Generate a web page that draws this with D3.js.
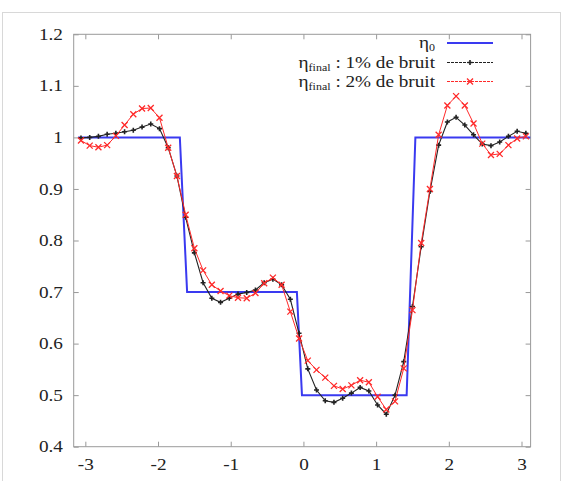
<!DOCTYPE html>
<html>
<head>
<meta charset="utf-8">
<script src="https://cdn.jsdelivr.net/npm/d3@7"></script>
<style>
  body { margin: 0; background: #fff; }
  text { font-family: "Liberation Serif", "DejaVu Serif", serif; }
</style>
</head>
<body>
<script>
// sample positions of the reconstructed profiles
var xs = [-3.06, -2.94, -2.82, -2.70, -2.58, -2.46, -2.34, -2.22, -2.10, -1.98,
          -1.86, -1.74, -1.62, -1.50, -1.38, -1.26, -1.14, -1.02, -0.90, -0.78,
          -0.66, -0.54, -0.42, -0.30, -0.18, -0.06, 0.06, 0.18, 0.30, 0.42,
          0.54, 0.66, 0.78, 0.90, 1.02, 1.14, 1.26, 1.38, 1.50, 1.62,
          1.74, 1.86, 1.98, 2.10, 2.22, 2.34, 2.46, 2.58, 2.70, 2.82,
          2.94, 3.06];

// eta_final, 1% noise
var bruit1 = [0.999, 1.000, 1.002, 1.006, 1.008, 1.011, 1.014, 1.020, 1.026, 1.017,
              0.980, 0.925, 0.845, 0.776, 0.718, 0.688, 0.680, 0.688, 0.696, 0.699,
              0.704, 0.718, 0.725, 0.714, 0.686, 0.620, 0.551, 0.510, 0.489, 0.486,
              0.494, 0.504, 0.515, 0.508, 0.481, 0.463, 0.500, 0.565, 0.672, 0.788,
              0.895, 0.985, 1.030, 1.039, 1.024, 1.005, 0.987, 0.984, 0.991, 1.002,
              1.012, 1.008];

// eta_final, 2% noise
var bruit2 = [0.994, 0.984, 0.981, 0.985, 1.003, 1.024, 1.045, 1.056, 1.057, 1.038,
              0.980, 0.925, 0.850, 0.785, 0.742, 0.714, 0.702, 0.693, 0.689, 0.688,
              0.698, 0.717, 0.728, 0.714, 0.662, 0.610, 0.567, 0.549, 0.534, 0.518,
              0.512, 0.519, 0.529, 0.525, 0.497, 0.472, 0.488, 0.552, 0.665, 0.795,
              0.900, 1.005, 1.062, 1.080, 1.062, 1.027, 0.988, 0.966, 0.968, 0.985,
              0.998, 1.002];

// eta_0, the exact step profile
var eta0X = [-3.10, -1.70, -1.60, -0.09, -0.02, 1.42, 1.54, 3.12];
var eta0Y = [1.0, 1.0, 0.7, 0.7, 0.5, 0.5, 1.0, 1.0];

var xTicks = [-3, -2, -1, 0, 1, 2, 3];
var yTicks = [0.4, 0.5, 0.6, 0.7, 0.8, 0.9, 1.0, 1.1, 1.2];

var legendLabels = [
    { sub: "0", rest: "" },
    { sub: "final", rest: " : 1% de bruit" },
    { sub: "final", rest: " : 2% de bruit" }
];

var svgWidth = 564, svgHeight = 481;
var plotL = 73.7, plotR = 530.6, plotT = 34.3, plotB = 446.7;
var stretch = 1.2;   // the source picture is a bit wider than tall

var svg = d3.select('body')
    .append('svg')
    .attr('width', svgWidth)
    .attr('height', svgHeight);

// light figure frame
svg.append('rect')
    .attr('x', 2.5).attr('y', 12.5)
    .attr('width', 558).attr('height', 480)
    .attr('fill', 'none')
    .attr('stroke', '#d8d8d8');

var xScale = d3.scaleLinear().domain([-3.16, 3.125]).range([plotL, plotR]);
var yScale = d3.scaleLinear().domain([0.4, 1.2]).range([plotB, plotT]);

var fmtX = function(d) { return String(d); };
var fmtY = function(d) { return d === 1 ? '1' : d3.format('.1f')(d); };

var tickLen = 5;

var gx = svg.append('g')
    .attr('transform', 'translate(0,' + plotB + ')')
    .call(d3.axisBottom(xScale).tickValues(xTicks).tickSize(-tickLen).tickSizeOuter(0).tickPadding(12)
        .tickFormat(fmtX));
var gxTop = svg.append('g')
    .attr('transform', 'translate(0,' + plotT + ')')
    .call(d3.axisTop(xScale).tickValues(xTicks).tickSize(-tickLen).tickSizeOuter(0).tickFormat(''));
var gy = svg.append('g')
    .attr('transform', 'translate(' + plotL + ',0)')
    .call(d3.axisLeft(yScale).tickValues(yTicks).tickSize(-tickLen).tickSizeOuter(0).tickPadding(9)
        .tickFormat(fmtY));
var gyRight = svg.append('g')
    .attr('transform', 'translate(' + plotR + ',0)')
    .call(d3.axisRight(yScale).tickValues(yTicks).tickSize(-tickLen).tickSizeOuter(0).tickFormat(''));

[gx, gxTop, gy, gyRight].forEach(function(g) {
    g.select('.domain').remove();
    g.selectAll('.tick line').attr('stroke', '#999');
    g.selectAll('.tick text')
        .attr('fill', '#222')
        .attr('transform', 'scale(' + stretch + ',1)')
        .style('font-family', '"Liberation Serif", "DejaVu Serif", serif')
        .style('font-size', '16px');
});

// plot box
svg.append('rect')
    .attr('x', plotL).attr('y', plotT)
    .attr('width', plotR - plotL).attr('height', plotB - plotT)
    .attr('fill', 'none')
    .attr('stroke', '#9a9a9a')
    .attr('stroke-width', 1);

var line = d3.line()
    .x(function(d) { return xScale(d[0]); })
    .y(function(d) { return yScale(d[1]); });

var eta0 = eta0X.map(function(x, i) { return [x, eta0Y[i]]; });
var s1 = xs.map(function(x, i) { return [x, bruit1[i]]; });
var s2 = xs.map(function(x, i) { return [x, bruit2[i]]; });

var blue = '#3a3af0', black = '#222', red = '#ff2a2a';

svg.append('path').datum(eta0)
    .attr('d', line).attr('fill', 'none')
    .attr('stroke', blue).attr('stroke-width', 2);

svg.append('path').datum(s1)
    .attr('d', line).attr('fill', 'none')
    .attr('stroke', black).attr('stroke-width', 1.1);

svg.append('g').selectAll('path')
    .data(s1).enter().append('path')
    .attr('transform', function(d) { return 'translate(' + xScale(d[0]) + ',' + yScale(d[1]) + ')'; })
    .attr('d', 'M-2.5,0H2.5M0,-2.5V2.5')
    .attr('stroke', black).attr('stroke-width', 1.6);

svg.append('path').datum(s2)
    .attr('d', line).attr('fill', 'none')
    .attr('stroke', red).attr('stroke-width', 1);

svg.append('g').selectAll('path')
    .data(s2).enter().append('path')
    .attr('transform', function(d) { return 'translate(' + xScale(d[0]) + ',' + yScale(d[1]) + ')'; })
    .attr('d', 'M-3,-3L3,3M-3,3L3,-3')
    .attr('stroke', red).attr('stroke-width', 1.3);

// legend
var legX = 435, legY = [43, 62.5, 81.5];
var sampleX0 = 447, sampleX1 = 493;
var legColors = [blue, black, red];

legendLabels.forEach(function(lab, i) {
    var t = svg.append('text')
        .attr('transform', 'translate(' + legX + ',' + (legY[i] + 5) + ') scale(' + stretch + ',1)')
        .attr('text-anchor', 'end')
        .style('font-size', '16px')
        .attr('fill', '#222');
    t.append('tspan').text('\u03b7');
    t.append('tspan').attr('dy', 3).style('font-size', '10px').text(lab.sub);
    if (lab.rest) t.append('tspan').attr('dy', -3).text(lab.rest);

    svg.append('line')
        .attr('x1', sampleX0).attr('x2', sampleX1)
        .attr('y1', legY[i]).attr('y2', legY[i])
        .attr('stroke', legColors[i])
        .attr('stroke-width', i === 0 ? 2 : 1)
        .attr('stroke-dasharray', i === 0 ? null : '3,1');
});
svg.append('path')
    .attr('transform', 'translate(' + (sampleX0 + sampleX1) / 2 + ',' + legY[1] + ')')
    .attr('d', 'M-2.5,0H2.5M0,-2.5V2.5')
    .attr('stroke', black).attr('stroke-width', 1.6);
svg.append('path')
    .attr('transform', 'translate(' + (sampleX0 + sampleX1) / 2 + ',' + legY[2] + ')')
    .attr('d', 'M-3,-3L3,3M-3,3L3,-3')
    .attr('stroke', red).attr('stroke-width', 1.3);
</script>
</body>
</html>
